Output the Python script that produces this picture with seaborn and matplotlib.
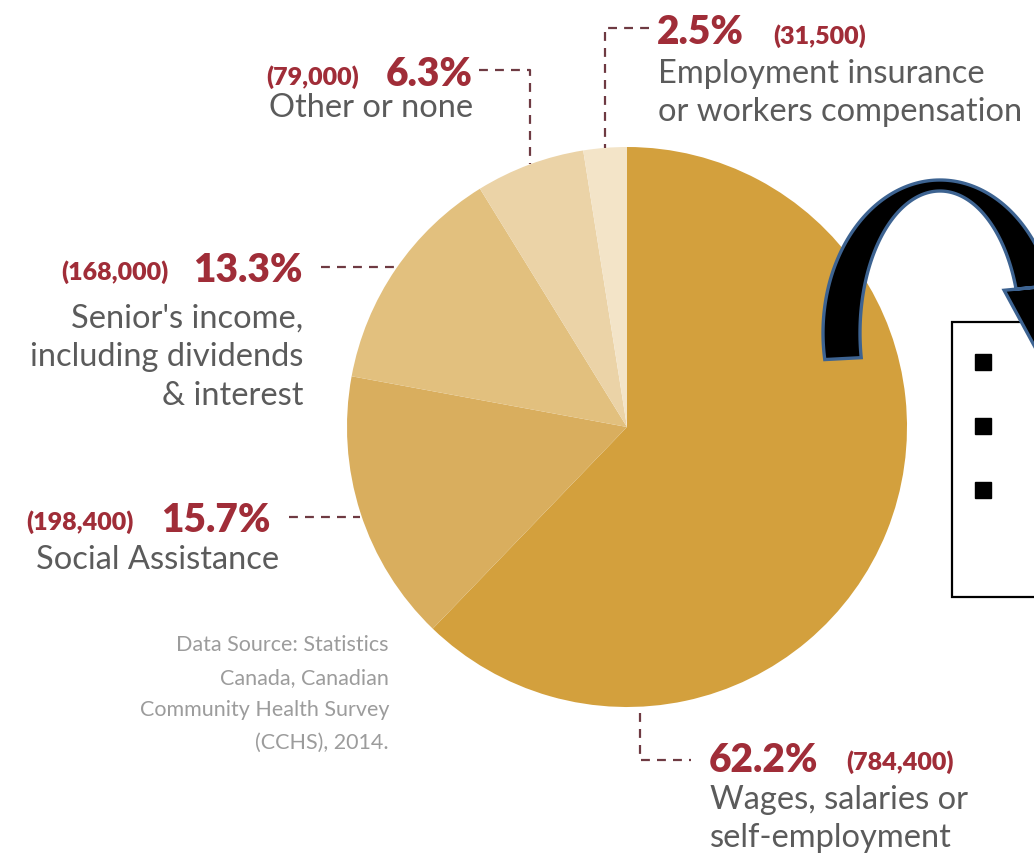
"""Income source pie (CCHS 2014) with callout labels, arrow and bullet box."""

import matplotlib.pyplot as plt
import numpy as np
import pandas as pd
import seaborn as sns
from matplotlib.patches import Polygon, Rectangle

# data, clockwise from 12 o'clock
SOURCES = [
    "Wages, salaries or\nself-employment",
    "Social Assistance",
    "Senior's income,\nincluding dividends\n& interest",
    "Other or none",
    "Employment insurance\nor workers compensation",
]
PERCENT = [62.2, 15.7, 13.3, 6.3, 2.5]
COUNTS = ["(784,400)", "(198,400)", "(168,000)", "(79,000)", "(31,500)"]
COLORS = ["#D3A03D", "#D9AE5E", "#E2C07E", "#EBD3A7", "#F3E4C8"]
SOURCE_NOTE = "Data Source: Statistics\nCanada, Canadian\nCommunity Health Survey\n(CCHS), 2014."

W, H = 1034, 859
CENTER = (627, 427)
RADIUS = 280

RED = "#A02D38"
GREY = "#5B5B5B"
LEADER = "#6E3A42"
PCT_FONT = ["Lato", "DejaVu Sans"]
TXT_FONT = ["Lato", "DejaVu Sans"]

# label layout (pixels, y down): side, pct anchor, count anchor, text anchor
LAYOUT = [
    dict(side="right", pct=(709, 760), cnt=(846, 762), txt=(710, 819), leader="elbow-down"),
    dict(side="left", pct=(271, 520), cnt=(134, 522), txt=(279, 560), leader="flat"),
    dict(side="left", pct=(303, 270), cnt=(169, 272), txt=(303, 357), leader="flat"),
    dict(side="left", pct=(473, 75), cnt=(359, 77), txt=(473, 108), leader="elbow-up"),
    dict(side="right", pct=(657, 33), cnt=(773, 36), txt=(658, 93), leader="elbow-up"),
]


def rim_point(angle_deg):
    # angle measured in screen space, counter-clockwise from 3 o'clock
    a = np.deg2rad(angle_deg)
    return CENTER[0] + RADIUS * np.cos(a), CENTER[1] - RADIUS * np.sin(a)


def dashed(ax, xs, ys):
    ax.plot(xs, ys, color=LEADER, lw=1.6, dashes=(4, 3.2), solid_capstyle="butt", zorder=3)


def draw_arrow(ax):
    cx, cy = 940, 333
    t = np.deg2rad(np.linspace(190, 18, 120))
    outer = np.c_[cx + 117 * np.cos(t), cy - 153 * np.sin(t)]
    inner = np.c_[cx + 80 * np.cos(t), cy - 142 * np.sin(t)]
    o, i = outer[-1], inner[-1]
    d = (i - o) / np.linalg.norm(i - o)
    mid = (o + i) / 2
    tang = np.array([-d[1], d[0]])
    if tang[1] < 0:
        tang = -tang
    head = [i + 12 * d, mid + 70 * tang, o - 12 * d]
    pts = np.vstack([outer, head, inner[::-1]])
    ax.add_patch(Polygon(pts, closed=True, facecolor="black", edgecolor="#3D6391",
                         lw=2.4, joinstyle="miter", zorder=5))


def main():
    sns.set_theme(style="white")
    plt.rcParams["font.family"] = TXT_FONT

    df = pd.DataFrame({"source": SOURCES, "pct": PERCENT, "count": COUNTS, "color": COLORS})

    fig = plt.figure(figsize=(W / 100, H / 100), dpi=100)
    ax = fig.add_axes([0, 0, 1, 1])
    wedges, _ = ax.pie(
        df["pct"], colors=df["color"], center=CENTER, radius=RADIUS,
        startangle=-90, counterclock=True, wedgeprops=dict(linewidth=0),
    )
    ax.set_xlim(0, W)
    ax.set_ylim(H, 0)
    ax.set_aspect("equal")
    ax.axis("off")

    for w, row, lay in zip(wedges, df.itertuples(), LAYOUT):
        # data-space angles -> screen angles (y axis is flipped)
        mid = -(w.theta1 + w.theta2) / 2
        ha = "left" if lay["side"] == "right" else "right"
        ax.text(*lay["pct"], f"{row.pct:.1f}%", ha=ha, va="center", color=RED,
                fontsize=28, fontweight="heavy", family=PCT_FONT)
        ax.text(*lay["cnt"], row.count, ha=ha, va="center", color=RED,
                fontsize=18, fontweight="heavy", family=PCT_FONT)
        ax.text(*lay["txt"], row.source, ha=ha, va="center", color=GREY,
                fontsize=23.5, linespacing=1.36, multialignment=ha)

        py = lay["pct"][1]
        if lay["leader"] == "flat":
            x0, y0 = rim_point(mid)
            dashed(ax, [lay["pct"][0] + 18, x0], [py - 3, py - 3])
        elif lay["leader"] == "elbow-up":
            x0, y0 = rim_point(mid)
            x1 = lay["pct"][0] + (6 if ha == "right" else -8)
            dashed(ax, [x1, x0, x0], [py - 5, py - 5, y0])
        else:
            x0, y0 = rim_point(-87.3)
            dashed(ax, [x0, x0, lay["pct"][0] - 18], [y0 + 6, py, py])

    ax.text(389, 694, SOURCE_NOTE, ha="right", va="center", color="#9C9C9C",
            fontsize=15.5, linespacing=1.8, multialignment="right")

    draw_arrow(ax)
    ax.add_patch(Rectangle((952, 322), 120, 275, facecolor="white", edgecolor="black",
                           lw=1.6, zorder=4))
    ax.plot([983] * 3, [362, 426, 490], ls="none", marker="s", ms=11.5,
            color="black", zorder=6)

    fig.savefig("out.png", dpi=100)
    plt.close(fig)


if __name__ == "__main__":
    main()
